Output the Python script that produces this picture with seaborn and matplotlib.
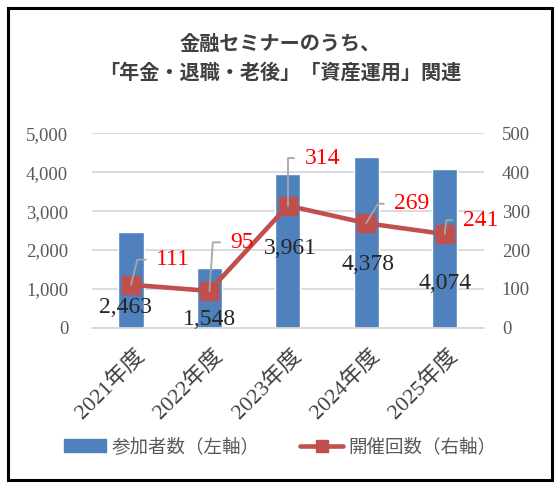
import numpy as np
import pandas as pd
import matplotlib.pyplot as plt
import matplotlib.transforms as mtransforms
from matplotlib.patches import Patch, Rectangle
from matplotlib.lines import Line2D
from matplotlib.ticker import FuncFormatter
import seaborn as sns

# data
years = ["2021年度", "2022年度", "2023年度", "2024年度", "2025年度"]
participants = [2463, 1548, 3961, 4378, 4074]   # 参加者数（左軸）
sessions = [111, 95, 314, 269, 241]              # 開催回数（右軸）

df = pd.DataFrame({"year": years, "participants": participants, "sessions": sessions})

BLUE = "#4F81BD"
RED = "#C0504D"
GRID = "#D9D9D9"
TXT = "#595959"
JP = "Noto Sans CJK JP"

sns.set_style("white")
plt.rcParams["font.family"] = ["Liberation Serif", JP]

fig = plt.figure(figsize=(5.6, 4.88), dpi=100)
ax = fig.add_axes([0.164, 0.328, 0.700, 0.399])
ax2 = ax.twinx()

sns.barplot(data=df, x="year", y="participants", color=BLUE, saturation=1,
            width=0.32, ax=ax, zorder=2)
sns.pointplot(data=df, x="year", y="sessions", color=RED, markers="s",
              markersize=12, linewidth=3.3, errorbar=None, ax=ax2, zorder=3)

# axes styling
ax.set_xlim(-0.5, len(years) - 0.5)
ax.set_ylim(0, 5000)
ax2.set_ylim(0, 500)
ax.set_yticks(range(0, 5001, 1000))
ax2.set_yticks(range(0, 501, 100))
ax.yaxis.set_major_formatter(FuncFormatter(lambda v, p: f"{int(v):,}"))
ax.set_xlabel("")
ax.set_ylabel("")
ax2.set_ylabel("")
ax.set_axisbelow(True)
ax.yaxis.grid(True, color=GRID, lw=1.3)
ax2.grid(False)
for s in ["top", "left", "right"]:
    ax.spines[s].set_visible(False)
ax.spines["bottom"].set_color(GRID)
ax.spines["bottom"].set_linewidth(1.3)
for s in ax2.spines.values():
    s.set_visible(False)

ax.tick_params(axis="y", length=0, labelsize=13.5, colors=TXT, pad=17)
ax2.tick_params(axis="y", length=0, labelsize=13.5, colors=TXT, pad=13)
ax.tick_params(axis="x", length=0, labelsize=16, colors="#404040", pad=13)
shift = mtransforms.ScaledTranslation(3 / 100, 0, fig.dpi_scale_trans)
for lab in ax.get_xticklabels():
    lab.set_rotation(45)
    lab.set_ha("right")
    lab.set_va("top")
    lab.set_rotation_mode("anchor")
    lab.set_transform(lab.get_transform() + shift)

# data labels
bar_offsets = [(-4, -54), (0, -37), (1.5, -54), (1.5, -77), (0, -82)]
for i, (v, off) in enumerate(zip(participants, bar_offsets)):
    ax.annotate(f"{v:,}", xy=(i, v), xytext=off, textcoords="offset points",
                ha="center", va="center", fontsize=17, color="#262626", zorder=5)

line_offsets = [(18, 18), (15, 35), (12, 34), (20, 14), (13, 10)]
leader_angles = [76, 86, 90, 59, 83]
for i, (v, off, ang) in enumerate(zip(sessions, line_offsets, leader_angles)):
    ax2.annotate(str(v), xy=(i, v), xytext=off, textcoords="offset points",
                 ha="left", va="center", fontsize=17, color="#FF0000", zorder=6,
                 arrowprops=dict(arrowstyle="-", color="#A6A6A6", lw=1.3,
                                 shrinkA=5, shrinkB=0, relpos=(0, 0.5),
                                 connectionstyle=f"angle,angleA=0,angleB={ang},rad=0"))

# title
fig.text(0.5, 0.882, "金融セミナーのうち、\n「年金・退職・老後」「資産運用」関連",
         ha="center", va="center", fontsize=14.5, fontweight="bold",
         color="#404040", family=JP, linespacing=1.45)

# legend
handles = [Patch(facecolor=BLUE, edgecolor=BLUE),
           Line2D([0], [0], color=RED, lw=3.3, marker="s", markersize=9)]
labels = ["参加者数（左軸）", "開催回数（右軸）"]
fig.legend(handles, labels, loc="center", bbox_to_anchor=(0.5, 0.084), ncol=2,
           frameon=False, prop={"family": JP, "size": 13.3}, labelcolor=TXT,
           handlelength=2.3, handletextpad=0.3, columnspacing=2.2)

# outer frame
fig.patches.append(Rectangle((8 / 560, 8 / 488), 544 / 560, 472 / 488,
                             transform=fig.transFigure, fill=False,
                             edgecolor="black", lw=2.2))

fig.savefig("out.png", dpi=100)
